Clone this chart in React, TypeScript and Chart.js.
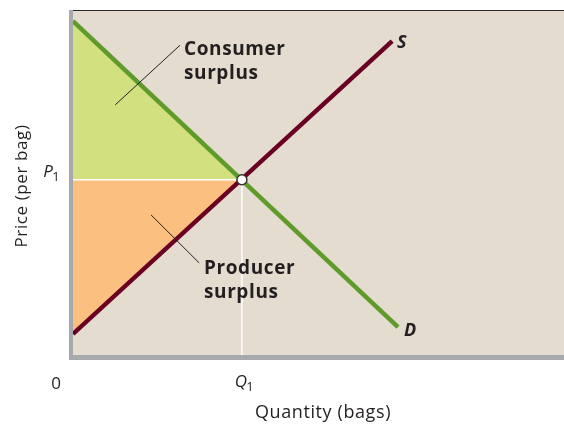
import React, { useEffect, useRef } from "react";
import { Chart, registerables } from "chart.js";

Chart.register(...registerables);

// Quantity / price in arbitrary units (0–100 on both axes)
const demandQty = [0, 66.2];
const demandPrice = [96.8, 8.1];
const supplyQty = [0, 65];
const supplyPrice = [6.1, 91];
const equilibriumQty = 34.4;
const equilibriumPrice = 50.8;
const xTickLabels = ["0", "Q", "1"];
const yTickLabel = ["P", "1"];
const axisTitles = ["Quantity (bags)", "Price (per bag)"];
const curveLabels = ["S", "D"];
const areaLabels = [["Consumer", "surplus"], ["Producer", "surplus"]];

const FONT = "'Open Sans', Lato, sans-serif";
const TEXT = "#231f20";

const decor = {
  id: "decor",
  beforeDraw(chart: any) {
    const { ctx, chartArea: a } = chart;
    ctx.save();
    ctx.fillStyle = "#e5dcd0";
    ctx.fillRect(a.left, a.top, a.right - a.left, a.bottom - a.top);
    ctx.restore();
  },
  afterDraw(chart: any) {
    const { ctx, chartArea: a, scales } = chart;
    const x = scales.x, y = scales.y;
    ctx.save();
    // top thin line
    ctx.strokeStyle = "#2a2a2a";
    ctx.lineWidth = 1;
    ctx.beginPath();
    ctx.moveTo(a.left - 4, a.top + 0.5);
    ctx.lineTo(a.right, a.top + 0.5);
    ctx.stroke();
    // gray axes
    ctx.fillStyle = "#a8a9ad";
    ctx.fillRect(a.left - 4, a.top, 4, a.bottom - a.top + 5);
    ctx.fillRect(a.left - 4, a.bottom, a.right - a.left + 4, 5);

    // leader lines
    ctx.strokeStyle = "#231f20";
    ctx.lineWidth = 1;
    ctx.beginPath();
    ctx.moveTo(x.getPixelForValue(8.6), y.getPixelForValue(72.5));
    ctx.lineTo(x.getPixelForValue(21.8), y.getPixelForValue(89.8));
    ctx.moveTo(x.getPixelForValue(15.9), y.getPixelForValue(40.6));
    ctx.lineTo(x.getPixelForValue(25.7), y.getPixelForValue(26.7));
    ctx.stroke();

    ctx.fillStyle = TEXT;
    ctx.textBaseline = "alphabetic";
    ctx.textAlign = "left";
    ctx.font = `bold 19px ${FONT}`;
    (ctx as any).letterSpacing = "0.6px";
    ctx.fillText(areaLabels[0][0], 184, 55);
    ctx.fillText(areaLabels[0][1], 184, 79);
    ctx.fillText(areaLabels[1][0], 204, 274);
    ctx.fillText(areaLabels[1][1], 204, 298);
    (ctx as any).letterSpacing = "0px";

    ctx.font = `italic bold 18px ${FONT}`;
    ctx.fillText(curveLabels[0], 397, 48);
    ctx.fillText(curveLabels[1], 404, 336);

    // tick labels
    ctx.font = `17px ${FONT}`;
    ctx.textAlign = "center";
    ctx.fillText(xTickLabels[0], 56, 389);
    ctx.font = `italic 17px ${FONT}`;
    const qx = x.getPixelForValue(equilibriumQty);
    ctx.fillText(xTickLabels[1], qx - 1, 387);
    ctx.font = `13px ${FONT}`;
    ctx.fillText(xTickLabels[2], qx + 8, 391);

    const py = y.getPixelForValue(equilibriumPrice);
    ctx.font = `italic 17px ${FONT}`;
    ctx.fillText(yTickLabel[0], 48, py - 3);
    ctx.font = `13px ${FONT}`;
    ctx.fillText(yTickLabel[1], 56, py + 1);

    // axis titles
    ctx.font = `18px ${FONT}`;
    (ctx as any).letterSpacing = "0.6px";
    ctx.fillText(axisTitles[0], 323, 418);
    ctx.translate(27, 186);
    ctx.rotate(-Math.PI / 2);
    ctx.font = `17px ${FONT}`;
    ctx.fillText(axisTitles[1], 0, 0);
    ctx.restore();
  },
};

export default function App() {
  const ref = useRef<HTMLCanvasElement>(null);
  useEffect(() => {
    document.body.style.margin = "0";
    const pts = (xs: number[], ys: number[]) => xs.map((v, i) => ({ x: v, y: ys[i] }));
    const dAtQ = { x: equilibriumQty, y: equilibriumPrice };
    const chart = new Chart(ref.current!, {
      type: "scatter",
      data: {
        datasets: [
          {
            data: [{ x: demandQty[0], y: demandPrice[0] }, dAtQ],
            showLine: true,
            borderWidth: 0,
            pointRadius: 0,
            backgroundColor: "#d3e07f",
            fill: { value: equilibriumPrice },
            order: 5,
          } as any,
          {
            data: [{ x: supplyQty[0], y: supplyPrice[0] }, dAtQ],
            showLine: true,
            borderWidth: 0,
            pointRadius: 0,
            backgroundColor: "#fbbf7f",
            fill: { value: equilibriumPrice },
            order: 5,
          },
          {
            data: [{ x: 0, y: equilibriumPrice }, dAtQ],
            showLine: true,
            borderColor: "#ffffff",
            borderWidth: 1.5,
            pointRadius: 0,
            order: 4,
          },
          {
            data: [{ x: equilibriumQty, y: 0 }, dAtQ],
            showLine: true,
            borderColor: "#ffffff",
            borderWidth: 1.5,
            pointRadius: 0,
            order: 4,
          },
          {
            data: pts(demandQty, demandPrice),
            showLine: true,
            borderColor: "#5f9b2b",
            borderWidth: 4.5,
            pointRadius: 0,
            order: 3,
          },
          {
            data: pts(supplyQty, supplyPrice),
            showLine: true,
            borderColor: "#6a0021",
            borderWidth: 4.5,
            pointRadius: 0,
            order: 2,
          },
          {
            data: [dAtQ],
            pointRadius: 5,
            pointBackgroundColor: "#ffffff",
            pointBorderColor: "#333333",
            pointBorderWidth: 1.5,
            order: 1,
          },
        ],
      },
      options: {
        animation: false,
        responsive: false,
        devicePixelRatio: 1,
        layout: { autoPadding: false, padding: { left: 73, right: 0, top: 10, bottom: 69 } },
        plugins: { legend: { display: false }, tooltip: { enabled: false } },
        scales: {
          x: { type: "linear", min: 0, max: 100, display: false },
          y: { type: "linear", min: 0, max: 100, display: false },
        },
      },
      plugins: [decor],
    });
    return () => chart.destroy();
  }, []);
  return (
    <div style={{ width: 564, height: 424 }}>
      <canvas ref={ref} width={564} height={424} />
    </div>
  );
}
